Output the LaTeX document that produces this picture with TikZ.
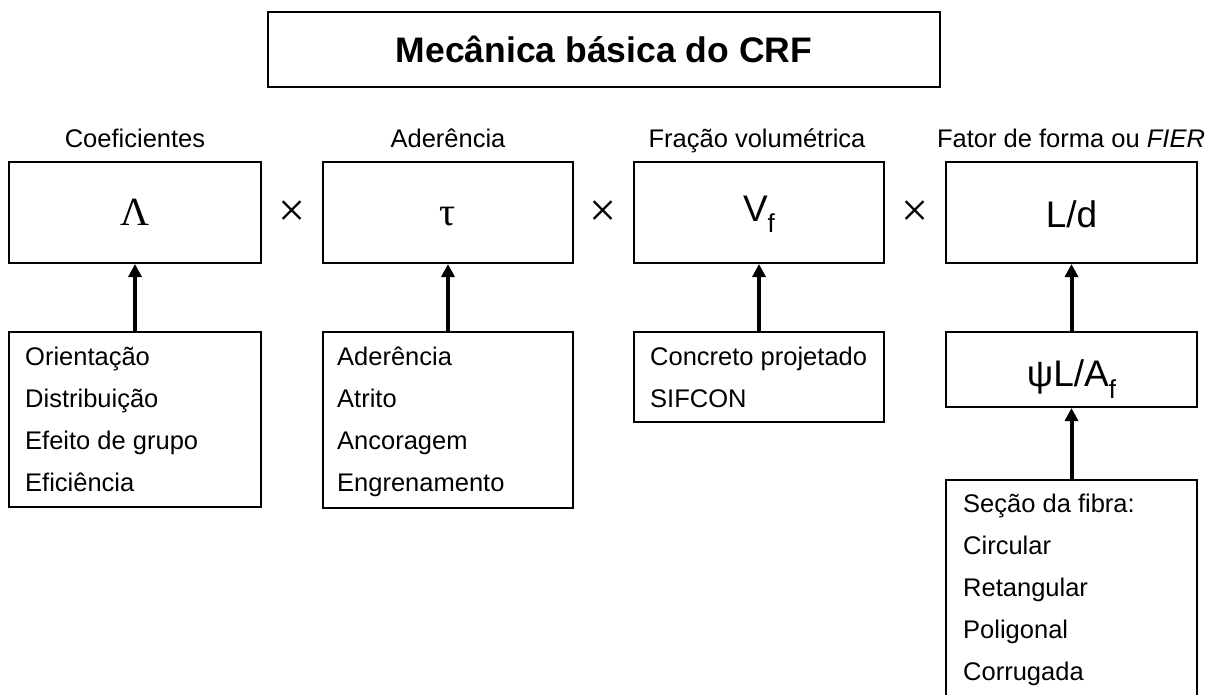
\documentclass[tikz,border=0pt]{standalone}
\usepackage{fontspec}
\setmainfont{Liberation Sans}
\newfontfamily\serifgr{Liberation Serif}
\usetikzlibrary{arrows.meta}
\begin{document}
\begin{tikzpicture}[x=1pt,y=-1pt,
  box/.style={draw=black, line width=2pt, inner sep=0pt},
  symb/.style={font=\fontsize{37}{44}\selectfont},
  grk/.style={font=\serifgr\fontsize{40}{46}\selectfont},
  head/.style={font=\fontsize{25.5}{30}\selectfont, anchor=base, inner sep=0pt},
  items/.style={font=\fontsize{25.5}{42}\selectfont, anchor=base west, inner sep=0pt},
  mult/.style={font=\serifgr\fontsize{48}{52}\selectfont, inner sep=0pt},
  arr/.style={line width=4pt, -{Triangle[length=13pt,width=13pt]}}]
\useasboundingbox (0,0) rectangle (1214,695);
\clip (0,0) rectangle (1214,695);

% title
\node[box, minimum width=672pt, minimum height=75pt, text height=27pt, text depth=0pt,
      font=\bfseries\fontsize{35.5}{40}\selectfont] (title) at (604,49.5) {Mecânica básica do CRF};

% headers
\node[head] (h1) at (135,148) {Coeficientes};
\node[head] (h2) at (448,148) {Aderência};
\node[head] (h3) at (757,148) {Fração volumétrica};
\node[head] (h4) at (1071,148) {Fator de forma ou \textit{FIER}};

% top boxes
\node[box, grk, minimum width=252pt, minimum height=101pt, text height=26pt, text depth=0pt] (b1) at (135,212.5) {Λ};
\node[box, grk, minimum width=250pt, minimum height=101pt, text height=26pt, text depth=0pt] (b2) at (448,212.5) {τ};
\node[box, symb, minimum width=250pt, minimum height=101pt, text height=17pt, text depth=0pt] (b3) at (759,212.5)
  {V\raisebox{-0.32em}{\fontsize{26}{28}\selectfont f}};
\node[box, symb, minimum width=251pt, minimum height=101pt, text height=30pt, text depth=0pt] (b4) at (1071.5,212.5) {L/d};

% multiplication signs
\node[mult] (m1) at (292,214) {×};
\node[mult] (m2) at (603.5,214) {×};
\node[mult] (m3) at (915,214) {×};

% lower boxes
\node[box, minimum width=252pt, minimum height=175pt] (l1) at (135,419.5) {};
\node[box, minimum width=250pt, minimum height=176pt] (l2) at (448,420) {};
\node[box, minimum width=250pt, minimum height=90pt] (l3) at (759,377) {};
\node[box, symb, minimum width=251pt, minimum height=75pt, text height=34pt, text depth=0pt] (psi) at (1071.5,369.5)
  {ψL/A\raisebox{-0.32em}{\fontsize{26}{28}\selectfont f}};
\node[box, minimum width=251pt, minimum height=240pt] (l4) at (1071.5,600) {};

% list texts
\node[items] (t1) at (25,365) {\vtop{\baselineskip=42pt\hbox{Orientação}\hbox{Distribuição}\hbox{Efeito de grupo}\hbox{Eficiência}}};
\node[items] (t2) at (337,365) {\vtop{\baselineskip=42pt\hbox{Aderência}\hbox{Atrito}\hbox{Ancoragem}\hbox{Engrenamento}}};
\node[items] (t3) at (650,365) {\vtop{\baselineskip=42pt\hbox{Concreto projetado}\hbox{SIFCON}}};
\node[items] (t4) at (963,512) {\vtop{\baselineskip=42pt\hbox{Seção da fibra:}\hbox{Circular}\hbox{Retangular}\hbox{Poligonal}\hbox{Corrugada}}};

% arrows
\draw[arr] (l1.north) -- (b1.south);
\draw[arr] (l2.north) -- (b2.south);
\draw[arr] (l3.north) -- (b3.south);
\draw[arr] (psi.north) -- (b4.south);
\draw[arr] (l4.north) -- (psi.south);
\end{tikzpicture}
\end{document}
